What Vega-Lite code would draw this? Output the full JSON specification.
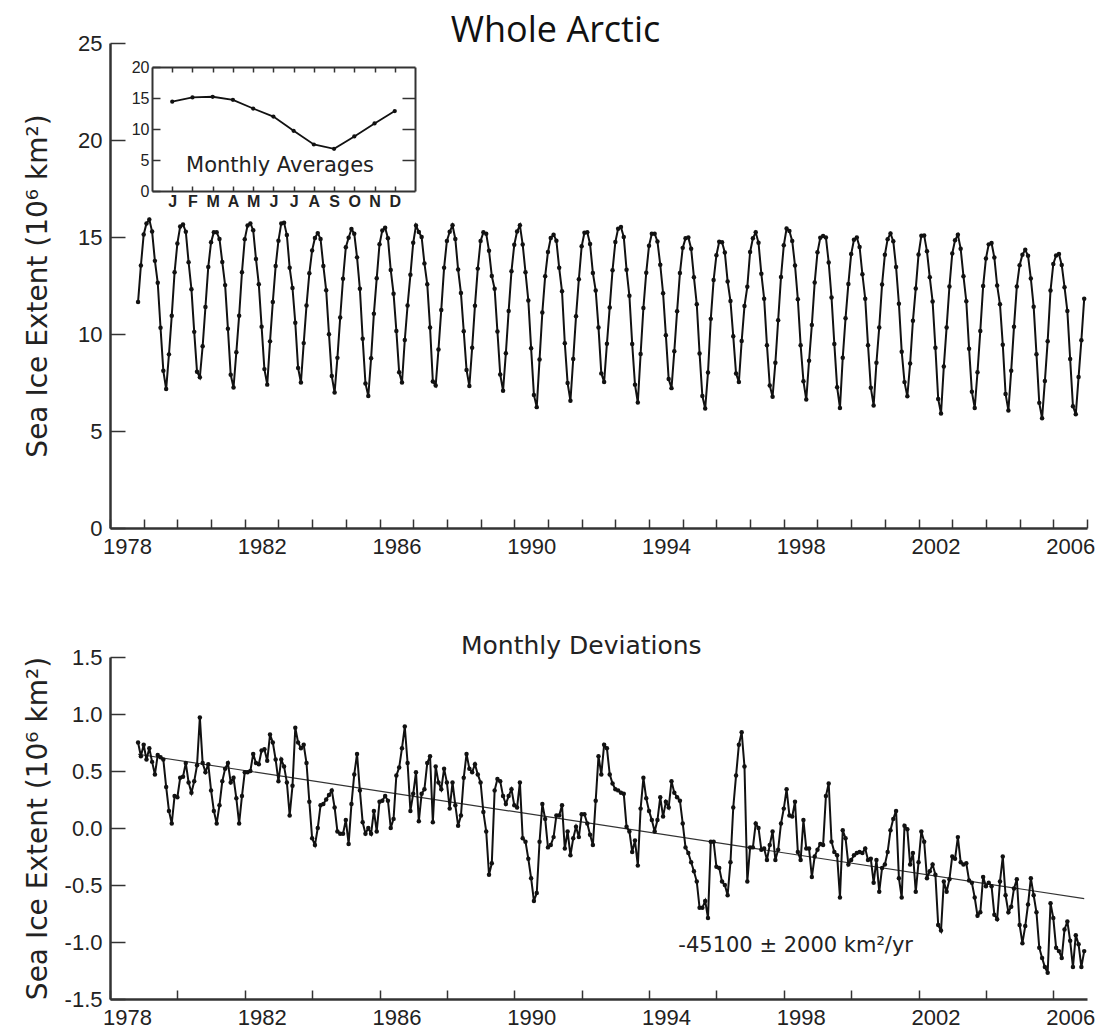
{
  "$schema": "https://vega.github.io/schema/vega-lite/v6.json",
  "width": 977,
  "height": 956,
  "autosize": {"type": "none"},
  "padding": {"left": 110, "top": 43, "right": 12, "bottom": 33},
  "background": "white",
  "config": {
    "view": {"stroke": null},
    "axis": {"labelFont": "Liberation Sans", "labelFontSize": 22, "labelColor": "#222", "domainColor": "#333", "domainWidth": 2.5, "tickColor": "#333", "tickWidth": 1.5, "grid": false, "labelFlush": false, "labelOverlap": false, "labelBound": false}
  },
  "title": {"text": "Whole Arctic", "font": "Open Sans", "fontSize": 36, "fontWeight": "normal", "color": "#111", "anchor": "middle", "frame": "group", "dx": -43, "offset": -18},
  "datasets": {
    "ice": [
      {"t":1978.833,"e":11.65,"a":0.75},{"t":1978.917,"e":13.53,"a":0.63},
      {"t":1979,"e":15.13,"a":0.73},{"t":1979.083,"e":15.7,"a":0.6},{"t":1979.167,"e":15.9,"a":0.7},{"t":1979.25,"e":15.28,"a":0.58},{"t":1979.333,"e":13.77,"a":0.47},{"t":1979.417,"e":12.64,"a":0.64},{"t":1979.5,"e":10.32,"a":0.62},{"t":1979.583,"e":8.1,"a":0.6},{"t":1979.667,"e":7.16,"a":0.36},{"t":1979.75,"e":8.95,"a":0.15},{"t":1979.833,"e":10.94,"a":0.04},{"t":1979.917,"e":13.18,"a":0.28},
      {"t":1980,"e":14.67,"a":0.27},{"t":1980.083,"e":15.54,"a":0.44},{"t":1980.167,"e":15.65,"a":0.45},{"t":1980.25,"e":15.27,"a":0.57},{"t":1980.333,"e":13.7,"a":0.4},{"t":1980.417,"e":12.31,"a":0.31},{"t":1980.5,"e":10.11,"a":0.41},{"t":1980.583,"e":8.05,"a":0.55},{"t":1980.667,"e":7.77,"a":0.97},{"t":1980.75,"e":9.37,"a":0.57},{"t":1980.833,"e":11.39,"a":0.49},{"t":1980.917,"e":13.46,"a":0.56},
      {"t":1981,"e":14.73,"a":0.33},{"t":1981.083,"e":15.25,"a":0.15},{"t":1981.167,"e":15.24,"a":0.04},{"t":1981.25,"e":14.9,"a":0.2},{"t":1981.333,"e":13.71,"a":0.41},{"t":1981.417,"e":12.52,"a":0.52},{"t":1981.5,"e":10.27,"a":0.57},{"t":1981.583,"e":7.9,"a":0.4},{"t":1981.667,"e":7.24,"a":0.44},{"t":1981.75,"e":9.06,"a":0.26},{"t":1981.833,"e":10.94,"a":0.04},{"t":1981.917,"e":13.18,"a":0.28},
      {"t":1982,"e":14.89,"a":0.49},{"t":1982.083,"e":15.59,"a":0.49},{"t":1982.167,"e":15.7,"a":0.5},{"t":1982.25,"e":15.35,"a":0.65},{"t":1982.333,"e":13.87,"a":0.57},{"t":1982.417,"e":12.56,"a":0.56},{"t":1982.5,"e":10.38,"a":0.68},{"t":1982.583,"e":8.19,"a":0.69},{"t":1982.667,"e":7.39,"a":0.59},{"t":1982.75,"e":9.62,"a":0.82},{"t":1982.833,"e":11.65,"a":0.75},{"t":1982.917,"e":13.5,"a":0.6},
      {"t":1983,"e":14.81,"a":0.41},{"t":1983.083,"e":15.7,"a":0.6},{"t":1983.167,"e":15.74,"a":0.54},{"t":1983.25,"e":15.1,"a":0.4},{"t":1983.333,"e":13.41,"a":0.11},{"t":1983.417,"e":12.37,"a":0.37},{"t":1983.5,"e":10.58,"a":0.88},{"t":1983.583,"e":8.25,"a":0.75},{"t":1983.667,"e":7.5,"a":0.7},{"t":1983.75,"e":9.53,"a":0.73},{"t":1983.833,"e":11.47,"a":0.57},{"t":1983.917,"e":13.13,"a":0.23},
      {"t":1984,"e":14.31,"a":-0.09},{"t":1984.083,"e":14.95,"a":-0.15},{"t":1984.167,"e":15.2,"a":0.0},{"t":1984.25,"e":14.9,"a":0.2},{"t":1984.333,"e":13.51,"a":0.21},{"t":1984.417,"e":12.25,"a":0.25},{"t":1984.5,"e":9.99,"a":0.29},{"t":1984.583,"e":7.83,"a":0.33},{"t":1984.667,"e":6.98,"a":0.18},{"t":1984.75,"e":8.77,"a":-0.03},{"t":1984.833,"e":10.85,"a":-0.05},{"t":1984.917,"e":12.85,"a":-0.05},
      {"t":1985,"e":14.47,"a":0.07},{"t":1985.083,"e":14.96,"a":-0.14},{"t":1985.167,"e":15.41,"a":0.21},{"t":1985.25,"e":15.17,"a":0.47},{"t":1985.333,"e":13.95,"a":0.65},{"t":1985.417,"e":12.33,"a":0.33},{"t":1985.5,"e":9.75,"a":0.05},{"t":1985.583,"e":7.45,"a":-0.05},{"t":1985.667,"e":6.8,"a":0.0},{"t":1985.75,"e":8.75,"a":-0.05},{"t":1985.833,"e":11.05,"a":0.15},{"t":1985.917,"e":12.87,"a":-0.03},
      {"t":1986,"e":14.63,"a":0.23},{"t":1986.083,"e":15.34,"a":0.24},{"t":1986.167,"e":15.48,"a":0.28},{"t":1986.25,"e":14.94,"a":0.24},{"t":1986.333,"e":13.3,"a":0.0},{"t":1986.417,"e":12.08,"a":0.08},{"t":1986.5,"e":10.16,"a":0.46},{"t":1986.583,"e":8.03,"a":0.53},{"t":1986.667,"e":7.5,"a":0.7},{"t":1986.75,"e":9.69,"a":0.89},{"t":1986.833,"e":11.47,"a":0.57},{"t":1986.917,"e":13.05,"a":0.15},
      {"t":1987,"e":14.7,"a":0.3},{"t":1987.083,"e":15.59,"a":0.49},{"t":1987.167,"e":15.26,"a":0.06},{"t":1987.25,"e":15.0,"a":0.3},{"t":1987.333,"e":13.64,"a":0.34},{"t":1987.417,"e":12.57,"a":0.57},{"t":1987.5,"e":10.33,"a":0.63},{"t":1987.583,"e":7.55,"a":0.05},{"t":1987.667,"e":7.34,"a":0.54},{"t":1987.75,"e":9.2,"a":0.4},{"t":1987.833,"e":11.24,"a":0.34},{"t":1987.917,"e":13.42,"a":0.52},
      {"t":1988,"e":14.8,"a":0.4},{"t":1988.083,"e":15.27,"a":0.17},{"t":1988.167,"e":15.6,"a":0.4},{"t":1988.25,"e":14.9,"a":0.2},{"t":1988.333,"e":13.32,"a":0.02},{"t":1988.417,"e":12.11,"a":0.11},{"t":1988.5,"e":10.14,"a":0.44},{"t":1988.583,"e":8.15,"a":0.65},{"t":1988.667,"e":7.32,"a":0.52},{"t":1988.75,"e":9.29,"a":0.49},{"t":1988.833,"e":11.46,"a":0.56},{"t":1988.917,"e":13.37,"a":0.47},
      {"t":1989,"e":14.8,"a":0.4},{"t":1989.083,"e":15.24,"a":0.14},{"t":1989.167,"e":15.17,"a":-0.03},{"t":1989.25,"e":14.29,"a":-0.41},{"t":1989.333,"e":12.99,"a":-0.31},{"t":1989.417,"e":12.33,"a":0.33},{"t":1989.5,"e":10.13,"a":0.43},{"t":1989.583,"e":7.91,"a":0.41},{"t":1989.667,"e":7.08,"a":0.28},{"t":1989.75,"e":9.01,"a":0.21},{"t":1989.833,"e":11.18,"a":0.28},{"t":1989.917,"e":13.24,"a":0.34},
      {"t":1990,"e":14.6,"a":0.2},{"t":1990.083,"e":15.28,"a":0.18},{"t":1990.167,"e":15.6,"a":0.4},{"t":1990.25,"e":14.61,"a":-0.09},{"t":1990.333,"e":13.18,"a":-0.12},{"t":1990.417,"e":11.73,"a":-0.27},{"t":1990.5,"e":9.26,"a":-0.44},{"t":1990.583,"e":6.86,"a":-0.64},{"t":1990.667,"e":6.23,"a":-0.57},{"t":1990.75,"e":8.68,"a":-0.12},{"t":1990.833,"e":11.11,"a":0.21},{"t":1990.917,"e":12.98,"a":0.08},
      {"t":1991,"e":14.23,"a":-0.17},{"t":1991.083,"e":14.95,"a":-0.15},{"t":1991.167,"e":15.12,"a":-0.08},{"t":1991.25,"e":14.81,"a":0.11},{"t":1991.333,"e":13.41,"a":0.11},{"t":1991.417,"e":12.2,"a":0.2},{"t":1991.5,"e":9.52,"a":-0.18},{"t":1991.583,"e":7.47,"a":-0.03},{"t":1991.667,"e":6.56,"a":-0.24},{"t":1991.75,"e":8.71,"a":-0.09},{"t":1991.833,"e":10.91,"a":0.01},{"t":1991.917,"e":12.82,"a":-0.08},
      {"t":1992,"e":14.52,"a":0.12},{"t":1992.083,"e":15.22,"a":0.12},{"t":1992.167,"e":15.24,"a":0.04},{"t":1992.25,"e":14.64,"a":-0.06},{"t":1992.333,"e":13.15,"a":-0.15},{"t":1992.417,"e":12.24,"a":0.24},{"t":1992.5,"e":10.33,"a":0.63},{"t":1992.583,"e":7.97,"a":0.47},{"t":1992.667,"e":7.53,"a":0.73},{"t":1992.75,"e":9.5,"a":0.7},{"t":1992.833,"e":11.37,"a":0.47},{"t":1992.917,"e":13.29,"a":0.39},
      {"t":1993,"e":14.74,"a":0.34},{"t":1993.083,"e":15.43,"a":0.33},{"t":1993.167,"e":15.51,"a":0.31},{"t":1993.25,"e":15.0,"a":0.3},{"t":1993.333,"e":13.31,"a":0.01},{"t":1993.417,"e":11.97,"a":-0.03},{"t":1993.5,"e":9.49,"a":-0.21},{"t":1993.583,"e":7.39,"a":-0.11},{"t":1993.667,"e":6.47,"a":-0.33},{"t":1993.75,"e":8.97,"a":0.17},{"t":1993.833,"e":11.34,"a":0.44},{"t":1993.917,"e":13.16,"a":0.26},
      {"t":1994,"e":14.55,"a":0.15},{"t":1994.083,"e":15.17,"a":0.07},{"t":1994.167,"e":15.17,"a":-0.03},{"t":1994.25,"e":14.77,"a":0.07},{"t":1994.333,"e":13.57,"a":0.27},{"t":1994.417,"e":12.1,"a":0.1},{"t":1994.5,"e":9.93,"a":0.23},{"t":1994.583,"e":7.68,"a":0.18},{"t":1994.667,"e":7.21,"a":0.41},{"t":1994.75,"e":9.11,"a":0.31},{"t":1994.833,"e":11.17,"a":0.27},{"t":1994.917,"e":13.14,"a":0.24},
      {"t":1995,"e":14.44,"a":0.04},{"t":1995.083,"e":14.93,"a":-0.17},{"t":1995.167,"e":14.98,"a":-0.22},{"t":1995.25,"e":14.4,"a":-0.3},{"t":1995.333,"e":12.92,"a":-0.38},{"t":1995.417,"e":11.53,"a":-0.47},{"t":1995.5,"e":9.0,"a":-0.7},{"t":1995.583,"e":6.8,"a":-0.7},{"t":1995.667,"e":6.16,"a":-0.64},{"t":1995.75,"e":8.01,"a":-0.79},{"t":1995.833,"e":10.78,"a":-0.12},{"t":1995.917,"e":12.78,"a":-0.12},
      {"t":1996,"e":14.06,"a":-0.34},{"t":1996.083,"e":14.75,"a":-0.35},{"t":1996.167,"e":14.73,"a":-0.47},{"t":1996.25,"e":14.2,"a":-0.5},{"t":1996.333,"e":12.71,"a":-0.59},{"t":1996.417,"e":11.7,"a":-0.3},{"t":1996.5,"e":9.88,"a":0.18},{"t":1996.583,"e":7.96,"a":0.46},{"t":1996.667,"e":7.53,"a":0.73},{"t":1996.75,"e":9.64,"a":0.84},{"t":1996.833,"e":11.44,"a":0.54},{"t":1996.917,"e":12.43,"a":-0.47},
      {"t":1997,"e":14.23,"a":-0.17},{"t":1997.083,"e":14.93,"a":-0.17},{"t":1997.167,"e":15.24,"a":0.04},{"t":1997.25,"e":14.7,"a":0.0},{"t":1997.333,"e":13.11,"a":-0.19},{"t":1997.417,"e":11.82,"a":-0.18},{"t":1997.5,"e":9.42,"a":-0.28},{"t":1997.583,"e":7.35,"a":-0.15},{"t":1997.667,"e":6.77,"a":-0.03},{"t":1997.75,"e":8.52,"a":-0.28},{"t":1997.833,"e":10.71,"a":-0.19},{"t":1997.917,"e":12.94,"a":0.04},
      {"t":1998,"e":14.57,"a":0.17},{"t":1998.083,"e":15.44,"a":0.34},{"t":1998.167,"e":15.31,"a":0.11},{"t":1998.25,"e":14.8,"a":0.1},{"t":1998.333,"e":13.53,"a":0.23},{"t":1998.417,"e":11.79,"a":-0.21},{"t":1998.5,"e":9.42,"a":-0.28},{"t":1998.583,"e":7.57,"a":0.07},{"t":1998.667,"e":6.62,"a":-0.18},{"t":1998.75,"e":8.62,"a":-0.18},{"t":1998.833,"e":10.47,"a":-0.43},{"t":1998.917,"e":12.65,"a":-0.25},
      {"t":1999,"e":14.21,"a":-0.19},{"t":1999.083,"e":14.96,"a":-0.14},{"t":1999.167,"e":15.05,"a":-0.15},{"t":1999.25,"e":14.98,"a":0.28},{"t":1999.333,"e":13.69,"a":0.39},{"t":1999.417,"e":11.88,"a":-0.12},{"t":1999.5,"e":9.49,"a":-0.21},{"t":1999.583,"e":7.26,"a":-0.24},{"t":1999.667,"e":6.19,"a":-0.61},{"t":1999.75,"e":8.78,"a":-0.02},{"t":1999.833,"e":10.81,"a":-0.09},{"t":1999.917,"e":12.58,"a":-0.32},
      {"t":2000,"e":14.12,"a":-0.28},{"t":2000.083,"e":14.86,"a":-0.24},{"t":2000.167,"e":14.98,"a":-0.22},{"t":2000.25,"e":14.49,"a":-0.21},{"t":2000.333,"e":13.08,"a":-0.22},{"t":2000.417,"e":11.82,"a":-0.18},{"t":2000.5,"e":9.42,"a":-0.28},{"t":2000.583,"e":7.23,"a":-0.27},{"t":2000.667,"e":6.32,"a":-0.48},{"t":2000.75,"e":8.52,"a":-0.28},{"t":2000.833,"e":10.34,"a":-0.56},{"t":2000.917,"e":12.55,"a":-0.35},
      {"t":2001,"e":14.08,"a":-0.32},{"t":2001.083,"e":14.89,"a":-0.21},{"t":2001.167,"e":15.18,"a":-0.02},{"t":2001.25,"e":14.78,"a":0.08},{"t":2001.333,"e":13.45,"a":0.15},{"t":2001.417,"e":11.56,"a":-0.44},{"t":2001.5,"e":9.09,"a":-0.61},{"t":2001.583,"e":7.52,"a":0.02},{"t":2001.667,"e":6.79,"a":-0.01},{"t":2001.75,"e":8.48,"a":-0.32},{"t":2001.833,"e":10.68,"a":-0.22},{"t":2001.917,"e":12.34,"a":-0.56},
      {"t":2002,"e":14.1,"a":-0.3},{"t":2002.083,"e":15.07,"a":-0.03},{"t":2002.167,"e":15.08,"a":-0.12},{"t":2002.25,"e":14.26,"a":-0.44},{"t":2002.333,"e":12.92,"a":-0.38},{"t":2002.417,"e":11.68,"a":-0.32},{"t":2002.5,"e":9.29,"a":-0.41},{"t":2002.583,"e":6.65,"a":-0.85},{"t":2002.667,"e":5.9,"a":-0.9},{"t":2002.75,"e":8.33,"a":-0.47},{"t":2002.833,"e":10.34,"a":-0.56},{"t":2002.917,"e":12.45,"a":-0.45},
      {"t":2003,"e":14.15,"a":-0.25},{"t":2003.083,"e":14.83,"a":-0.27},{"t":2003.167,"e":15.12,"a":-0.08},{"t":2003.25,"e":14.4,"a":-0.3},{"t":2003.333,"e":12.98,"a":-0.32},{"t":2003.417,"e":11.69,"a":-0.31},{"t":2003.5,"e":9.24,"a":-0.46},{"t":2003.583,"e":7.02,"a":-0.48},{"t":2003.667,"e":6.19,"a":-0.61},{"t":2003.75,"e":8.03,"a":-0.77},{"t":2003.833,"e":10.16,"a":-0.74},{"t":2003.917,"e":12.47,"a":-0.43},
      {"t":2004,"e":13.89,"a":-0.51},{"t":2004.083,"e":14.62,"a":-0.48},{"t":2004.167,"e":14.69,"a":-0.51},{"t":2004.25,"e":13.94,"a":-0.76},{"t":2004.333,"e":12.5,"a":-0.8},{"t":2004.417,"e":11.53,"a":-0.47},{"t":2004.5,"e":9.45,"a":-0.25},{"t":2004.583,"e":6.91,"a":-0.59},{"t":2004.667,"e":6.06,"a":-0.74},{"t":2004.75,"e":8.11,"a":-0.69},{"t":2004.833,"e":10.37,"a":-0.53},{"t":2004.917,"e":12.45,"a":-0.45},
      {"t":2005,"e":13.55,"a":-0.85},{"t":2005.083,"e":14.09,"a":-1.01},{"t":2005.167,"e":14.34,"a":-0.86},{"t":2005.25,"e":14.03,"a":-0.67},{"t":2005.333,"e":12.86,"a":-0.44},{"t":2005.417,"e":11.41,"a":-0.59},{"t":2005.5,"e":8.96,"a":-0.74},{"t":2005.583,"e":6.45,"a":-1.05},{"t":2005.667,"e":5.66,"a":-1.14},{"t":2005.75,"e":7.58,"a":-1.22},{"t":2005.833,"e":9.63,"a":-1.27},{"t":2005.917,"e":12.24,"a":-0.66},
      {"t":2006,"e":13.61,"a":-0.79},{"t":2006.083,"e":14.05,"a":-1.05},{"t":2006.167,"e":14.12,"a":-1.08},{"t":2006.25,"e":13.56,"a":-1.14},{"t":2006.333,"e":12.41,"a":-0.89},{"t":2006.417,"e":11.18,"a":-0.82},{"t":2006.5,"e":8.71,"a":-0.99},{"t":2006.583,"e":6.28,"a":-1.22},{"t":2006.667,"e":5.86,"a":-0.94},{"t":2006.75,"e":7.78,"a":-1.02},{"t":2006.833,"e":9.68,"a":-1.22},{"t":2006.917,"e":11.82,"a":-1.08}
    ],
    "clim": [
      {"m":1,"v":14.4},{"m":2,"v":15.1},{"m":3,"v":15.2},{"m":4,"v":14.7},{"m":5,"v":13.3},{"m":6,"v":12.0},
      {"m":7,"v":9.7},{"m":8,"v":7.5},{"m":9,"v":6.8},{"m":10,"v":8.8},{"m":11,"v":10.9},{"m":12,"v":12.9}
    ],
    "trend": [{"t":1978.833,"v":0.647},{"t":2006.917,"v":-0.62}]
  },
  "layer": [
    {
      "data": {"name": "ice"},
      "encoding": {
        "x": {"field": "t", "type": "quantitative",
          "scale": {"domain": [1978, 2007], "nice": false, "zero": false},
          "axis": {"orient": "bottom", "offset": -471, "title": null, "values": [1978,1979,1980,1981,1982,1983,1984,1985,1986,1987,1988,1989,1990,1991,1992,1993,1994,1995,1996,1997,1998,1999,2000,2001,2002,2003,2004,2005,2006,2007],
            "labelExpr": "(datum.value - 1978) % 4 == 0 ? format(datum.value, 'd') : ''", "labelOffset": 17, "tickSize": -9, "labelPadding": 17}},
        "y": {"field": "e", "type": "quantitative",
          "scale": {"domain": [0, 25], "range": [485, 0], "nice": false, "zero": false},
          "axis": {"orient": "left", "values": [0,5,10,15,20,25], "format": "d", "tickSize": -15, "labelPadding": 23,
            "title": "Sea Ice Extent (10⁶ km²)", "titleFont": "DejaVu Sans", "titleFontSize": 28, "titleFontWeight": "normal", "titleColor": "#222", "titleX": -64, "titleBaseline": "alphabetic"}}
      },
      "layer": [
        {"mark": {"type": "line", "color": "#111", "strokeWidth": 2}},
        {"mark": {"type": "point", "filled": true, "color": "#111", "size": 20, "opacity": 1}}
      ]
    },
    {
      "layer": [
        {
          "data": {"name": "trend"},
          "mark": {"type": "line", "color": "#333", "strokeWidth": 1.2},
          "encoding": {
            "x": {"field": "t", "type": "quantitative", "scale": {"domain": [1978, 2007], "nice": false, "zero": false},
              "axis": {"orient": "bottom", "offset": 0, "title": null, "values": [1978,1979,1980,1981,1982,1983,1984,1985,1986,1987,1988,1989,1990,1991,1992,1993,1994,1995,1996,1997,1998,1999,2000,2001,2002,2003,2004,2005,2006,2007],
                "labelExpr": "(datum.value - 1978) % 4 == 0 ? format(datum.value, 'd') : ''", "labelOffset": 17, "tickSize": -9, "labelPadding": 17}},
            "y": {"field": "v", "type": "quantitative", "scale": {"domain": [-1.5, 1.5], "range": [956, 614], "nice": false, "zero": false},
              "axis": {"orient": "left", "values": [-1.5,-1,-0.5,0,0.5,1,1.5], "labelExpr": "(datum.value < 0 ? '-' : '') + format(abs(datum.value), '.1f')", "tickSize": -15, "labelPadding": 23,
                "title": "Sea Ice Extent (10⁶ km²)", "titleFont": "DejaVu Sans", "titleFontSize": 28, "titleFontWeight": "normal", "titleColor": "#222", "titleX": -64, "titleBaseline": "alphabetic"}}
          }
        },
        {
          "data": {"name": "ice"},
          "mark": {"type": "line", "color": "#111", "strokeWidth": 2},
          "encoding": {
            "x": {"field": "t", "type": "quantitative"},
            "y": {"field": "a", "type": "quantitative"}
          }
        },
        {
          "data": {"name": "ice"},
          "mark": {"type": "point", "filled": true, "color": "#111", "size": 20, "opacity": 1},
          "encoding": {
            "x": {"field": "t", "type": "quantitative"},
            "y": {"field": "a", "type": "quantitative"}
          }
        },
        {
          "data": {"values": [{}]},
          "mark": {"type": "text", "text": "-45100 ± 2000 km²/yr", "font": "DejaVu Sans", "fontSize": 21, "align": "left", "baseline": "middle", "color": "#222"},
          "encoding": {
            "x": {"datum": 1994.87, "type": "quantitative"},
            "y": {"datum": -1.035, "type": "quantitative"}
          }
        },
        {
          "data": {"values": [{}]},
          "mark": {"type": "text", "text": "Monthly Deviations", "font": "DejaVu Sans", "fontSize": 25, "align": "center", "baseline": "alphabetic", "color": "#222"},
          "encoding": {
            "x": {"datum": 1991.99, "type": "quantitative"},
            "y": {"datum": 1.526, "type": "quantitative"}
          }
        }
      ]
    },
    {
      "data": {"name": "clim"},
      "layer": [
        {
          "mark": {"type": "line", "color": "#111", "strokeWidth": 1.8},
          "encoding": {
            "x": {"field": "m", "type": "quantitative", "scale": {"domain": [0, 13], "range": [42, 305], "nice": false, "zero": false},
              "axis": {"orient": "bottom", "offset": -808, "title": null, "values": [1,2,3,4,5,6,7,8,9,10,11,12],
                "labelExpr": "['J','F','M','A','M','J','J','A','S','O','N','D'][datum.value - 1]", "labelFontSize": 16, "labelFontWeight": "bold", "tickSize": -5, "labelPadding": 7, "domainWidth": 2}},
            "y": {"field": "v", "type": "quantitative", "scale": {"domain": [0, 20], "range": [148, 24], "nice": false, "zero": false},
              "axis": {"orient": "left", "offset": -42, "title": null, "values": [0,5,10,15,20], "format": "d", "labelFontSize": 16, "tickSize": -8, "labelPadding": 11, "domainWidth": 2}}
          }
        },
        {
          "mark": {"type": "point", "filled": true, "color": "#111", "size": 18, "opacity": 1},
          "encoding": {
            "x": {"field": "m", "type": "quantitative", "scale": {"domain": [0, 13], "range": [42, 305], "nice": false, "zero": false},
              "axis": {"orient": "top", "offset": -24, "title": null, "values": [1,2,3,4,5,6,7,8,9,10,11,12], "labels": false, "tickSize": -5, "domainWidth": 2}},
            "y": {"field": "v", "type": "quantitative", "scale": {"domain": [0, 20], "range": [148, 24], "nice": false, "zero": false},
              "axis": {"orient": "right", "offset": -672, "title": null, "values": [5,10,15], "labels": false, "tickSize": -13, "domainWidth": 2}}
          }
        },
        {
          "data": {"values": [{}]},
          "mark": {"type": "text", "text": "Monthly Averages", "font": "DejaVu Sans", "fontSize": 21, "align": "center", "baseline": "alphabetic", "color": "#222"},
          "encoding": {
            "x": {"datum": 6.33, "type": "quantitative", "axis": null},
            "y": {"datum": 3.05, "type": "quantitative", "axis": null}
          }
        }
      ],
      "resolve": {"axis": {"x": "independent", "y": "independent"}}
    }
  ],
  "resolve": {"scale": {"x": "independent", "y": "independent"}, "axis": {"x": "independent", "y": "independent"}}
}
